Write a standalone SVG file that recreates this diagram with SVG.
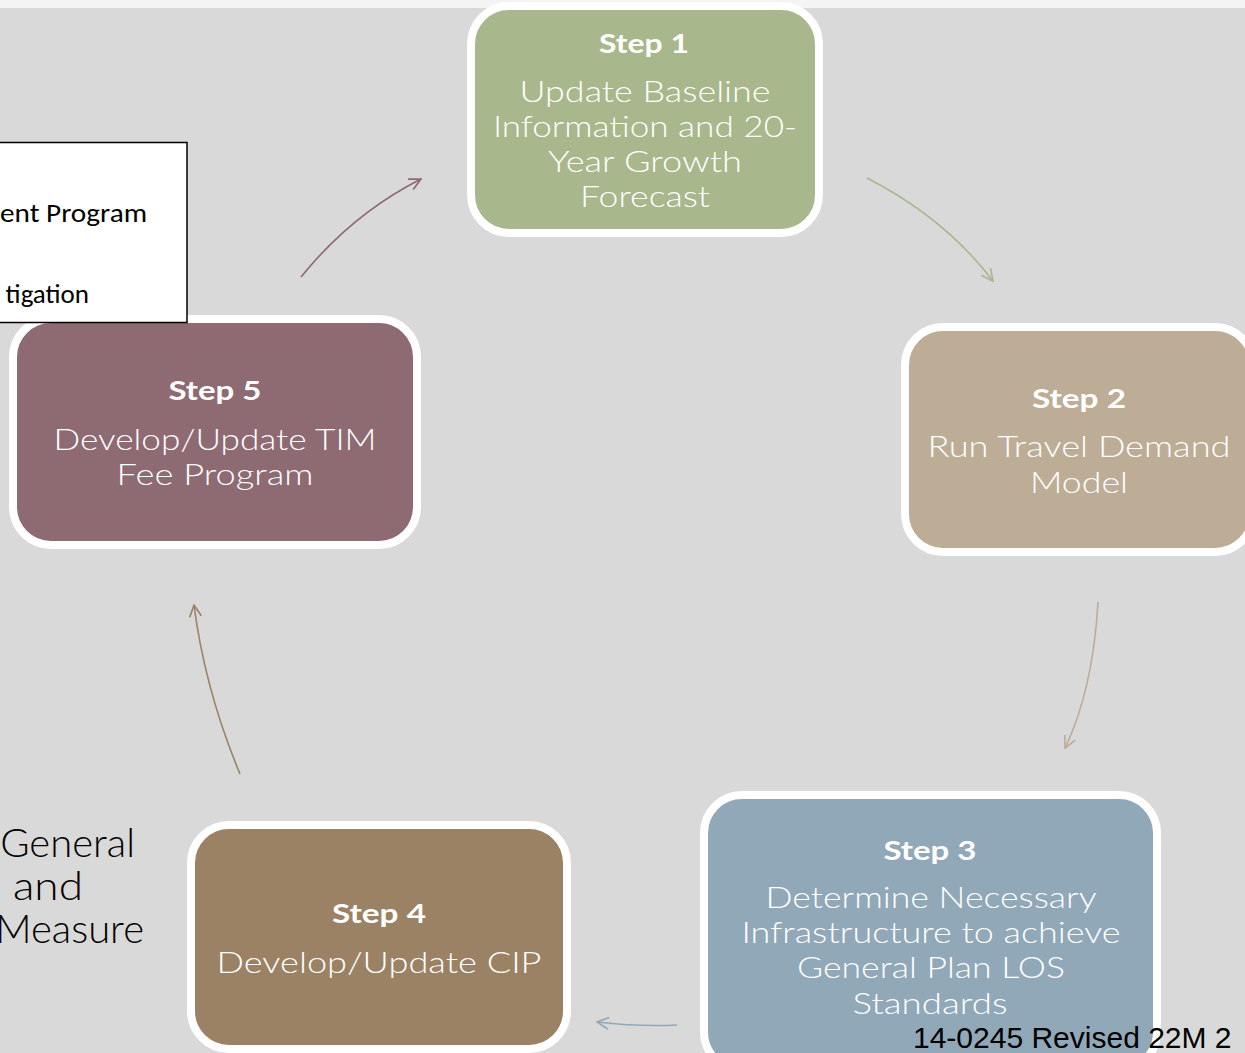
<svg xmlns="http://www.w3.org/2000/svg" width="1245" height="1053" viewBox="0 0 1245 1053">
<defs>
<style>
.box{stroke:#ffffff;stroke-width:8}
.t{font-family:"Century Gothic","Lato","Noto Sans",sans-serif;fill:#ffffff;text-anchor:middle;font-size:29px;font-weight:300}
.h{font-family:"Century Gothic","Lato","Noto Sans",sans-serif;fill:#ffffff;text-anchor:middle;font-size:27px;font-weight:bold}
.side{font-family:"Century Gothic","Lato","Noto Sans",sans-serif;fill:#000000;font-size:40px;font-weight:300}
.note{font-family:"Calibri","Carlito","Open Sans","Noto Sans",sans-serif;fill:#000000;font-size:27px}
.c{fill:none;stroke-width:1.6}
</style>
<marker id="a1" viewBox="0 0 12 12" refX="11" refY="6" markerWidth="14" markerHeight="14" markerUnits="userSpaceOnUse" orient="auto"><path d="M1,1 L11,6 L1,11" fill="none" stroke="#8e6a72" stroke-width="1.4"/></marker>
<marker id="a2" viewBox="0 0 12 12" refX="11" refY="6" markerWidth="14" markerHeight="14" markerUnits="userSpaceOnUse" orient="auto"><path d="M1,1 L11,6 L1,11" fill="none" stroke="#a8b78c" stroke-width="1.4"/></marker>
<marker id="a3" viewBox="0 0 12 12" refX="11" refY="6" markerWidth="14" markerHeight="14" markerUnits="userSpaceOnUse" orient="auto"><path d="M1,1 L11,6 L1,11" fill="none" stroke="#bdad97" stroke-width="1.4"/></marker>
<marker id="a4" viewBox="0 0 12 12" refX="11" refY="6" markerWidth="14" markerHeight="14" markerUnits="userSpaceOnUse" orient="auto"><path d="M1,1 L11,6 L1,11" fill="none" stroke="#91a8b8" stroke-width="1.4"/></marker>
<marker id="a5" viewBox="0 0 12 12" refX="11" refY="6" markerWidth="14" markerHeight="14" markerUnits="userSpaceOnUse" orient="auto"><path d="M1,1 L11,6 L1,11" fill="none" stroke="#9b8265" stroke-width="1.4"/></marker>
</defs>
<rect x="0" y="0" width="1245" height="1053" fill="#f4f4f4"/>
<rect x="0" y="8" width="1245" height="1045" fill="#d9d9d9"/>

<g id="connectors">
<path class="c" d="M301,277 Q352,214 421,179" stroke="#8e6a72" marker-end="url(#a1)"/>
<path class="c" d="M867,178 Q945,218 993,281" stroke="#a8b78c" marker-end="url(#a2)"/>
<path class="c" d="M1098,602 Q1093,690 1065,748" stroke="#bdad97" marker-end="url(#a3)"/>
<path class="c" d="M677,1025 Q640,1027 597,1022" stroke="#91a8b8" marker-end="url(#a4)"/>
<path class="c" d="M240,774 Q205,690 194,605" stroke="#9b8265" marker-end="url(#a5)"/>
</g>

<g id="step1">
<rect class="box" x="471" y="6" width="348" height="227" rx="38" fill="#a8b78c"/>
<text class="h" x="644" y="53" textLength="90" lengthAdjust="spacingAndGlyphs">Step 1</text>
<text class="t" x="645" y="102" textLength="251" lengthAdjust="spacingAndGlyphs">Update Baseline</text>
<text class="t" x="645" y="137" textLength="304" lengthAdjust="spacingAndGlyphs">Information and 20-</text>
<text class="t" x="645" y="172" textLength="194" lengthAdjust="spacingAndGlyphs">Year Growth</text>
<text class="t" x="645" y="207" textLength="130" lengthAdjust="spacingAndGlyphs">Forecast</text>
</g>

<g id="step2">
<rect class="box" x="905" y="327" width="348" height="225" rx="38" fill="#bdad97"/>
<text class="h" x="1079" y="408" textLength="94" lengthAdjust="spacingAndGlyphs">Step 2</text>
<text class="t" x="1079" y="457" textLength="303" lengthAdjust="spacingAndGlyphs">Run Travel Demand</text>
<text class="t" x="1079" y="493" textLength="98" lengthAdjust="spacingAndGlyphs">Model</text>
</g>

<g id="step3">
<rect class="box" x="704" y="795" width="453" height="275" rx="38" fill="#91a8b8"/>
<text class="h" x="930" y="860" textLength="93" lengthAdjust="spacingAndGlyphs">Step 3</text>
<text class="t" x="931" y="908" textLength="331" lengthAdjust="spacingAndGlyphs">Determine Necessary</text>
<text class="t" x="931" y="943" textLength="379" lengthAdjust="spacingAndGlyphs">Infrastructure to achieve</text>
<text class="t" x="931" y="978" textLength="268" lengthAdjust="spacingAndGlyphs">General Plan LOS</text>
<text class="t" x="930" y="1014" textLength="155" lengthAdjust="spacingAndGlyphs">Standards</text>
</g>

<g id="step4">
<rect class="box" x="191" y="825" width="376" height="224" rx="38" fill="#9b8265"/>
<text class="h" x="379" y="923" textLength="94" lengthAdjust="spacingAndGlyphs">Step 4</text>
<text class="t" x="379" y="973" textLength="325" lengthAdjust="spacingAndGlyphs">Develop/Update CIP</text>
</g>

<g id="step5">
<rect class="box" x="13" y="319" width="404" height="226" rx="38" fill="#8e6a72"/>
<text class="h" x="215" y="400" textLength="93" lengthAdjust="spacingAndGlyphs">Step 5</text>
<text class="t" x="215" y="450" textLength="323" lengthAdjust="spacingAndGlyphs">Develop/Update TIM</text>
<text class="t" x="215" y="485" textLength="197" lengthAdjust="spacingAndGlyphs">Fee Program</text>
</g>

<g id="notebox">
<rect x="-10" y="142.5" width="197" height="180" fill="#ffffff" stroke="#000000" stroke-width="1.5"/>
<text class="note" x="0" y="222" textLength="147" lengthAdjust="spacingAndGlyphs">ent Program</text>
<text class="note" x="89" y="303" text-anchor="end">tigation</text>
</g>

<g id="sidetext">
<text class="side" x="135" y="857" text-anchor="end">General</text>
<text class="side" x="13" y="900" textLength="70" lengthAdjust="spacingAndGlyphs">and</text>
<text class="side" x="144" y="943" text-anchor="end">Measure</text>
</g>

<text x="913" y="1048" font-family="'Liberation Sans',Arial,sans-serif" font-size="30" fill="#000000">14-0245 Revised 22M 2</text>
</svg>
